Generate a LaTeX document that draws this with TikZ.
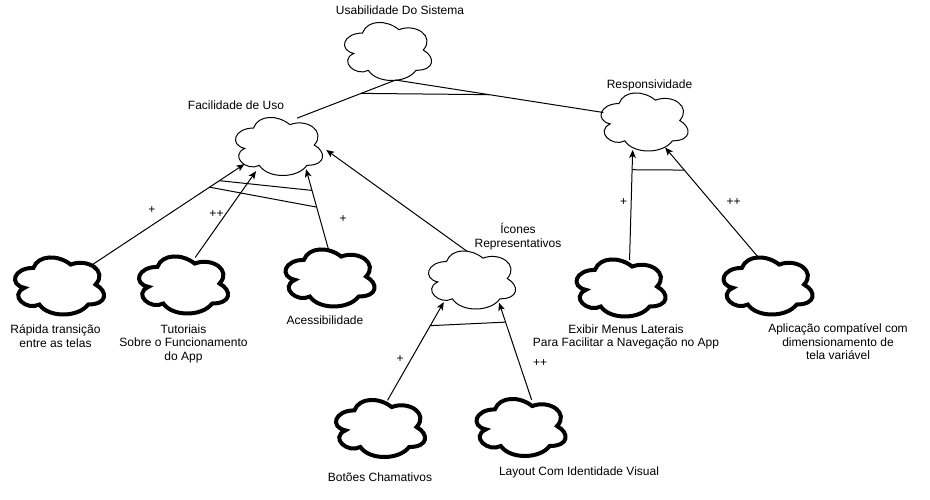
\documentclass[tikz,border=0pt]{standalone}
\usepackage{fontspec}
\setmainfont{Liberation Sans}
\usetikzlibrary{arrows.meta,calc}

% Cloud-shaped node: drawn outline follows the usual softgoal cloud,
% border anchors follow an ellipse of the node's minimum size.
\makeatletter
\newdimen\cldw \newdimen\cldh \newdimen\cldx \newdimen\cldy
\def\cldpt#1#2{\pgf@x=#1\cldw \advance\pgf@x by \cldx
  \pgf@y=-#2\cldh \advance\pgf@y by \cldy}
\pgfdeclareshape{softcloud}{%
  \savedanchor\cldradii{%
    \pgfmathsetlength\pgf@xb{\pgfkeysvalueof{/pgf/minimum width}}%
    \pgfmathsetlength\pgf@yb{\pgfkeysvalueof{/pgf/minimum height}}%
    \pgf@x=.5\pgf@xb
    \pgf@y=.5\pgf@yb
  }%
  \anchor{center}{\pgfpointorigin}%
  \anchor{text}{\pgfpointorigin}%
  \anchor{north}{\cldradii\pgf@x=0pt}%
  \anchor{south}{\cldradii\pgf@x=0pt\pgf@y=-\pgf@y}%
  \anchor{east}{\cldradii\pgf@y=0pt}%
  \anchor{west}{\cldradii\pgf@x=-\pgf@x\pgf@y=0pt}%
  \anchorborder{%
    \edef\cldtmp{\noexpand\pgfpointborderellipse
      {\noexpand\pgfqpoint{\the\pgf@x}{\the\pgf@y}}{\noexpand\cldradii}}%
    \cldtmp}%
  \backgroundpath{%
    \cldradii
    \cldw=2.2346\pgf@x
    \cldh=2.3364\pgf@y
    \cldx=-0.5125\cldw
    \cldy=0.522\cldh
    \pgfpathmoveto{\cldpt{0.25}{0.25}}%
    \pgfpathcurveto{\cldpt{0.05}{0.25}}{\cldpt{0}{0.5}}{\cldpt{0.16}{0.55}}%
    \pgfpathcurveto{\cldpt{0}{0.66}}{\cldpt{0.18}{0.9}}{\cldpt{0.31}{0.8}}%
    \pgfpathcurveto{\cldpt{0.4}{1}}{\cldpt{0.7}{1}}{\cldpt{0.8}{0.8}}%
    \pgfpathcurveto{\cldpt{1}{0.8}}{\cldpt{1}{0.6}}{\cldpt{0.875}{0.5}}%
    \pgfpathcurveto{\cldpt{1}{0.3}}{\cldpt{0.8}{0.1}}{\cldpt{0.625}{0.2}}%
    \pgfpathcurveto{\cldpt{0.5}{0.05}}{\cldpt{0.3}{0.05}}{\cldpt{0.25}{0.25}}%
    \pgfpathclose
  }%
}
\makeatother

\begin{document}
\begin{tikzpicture}[x=0.75pt,y=-0.75pt,
  softgoal/.style={shape=softcloud,draw,line width=0.75pt,
    minimum width=65.25pt,minimum height=43.5pt},
  opgoal/.style={shape=softcloud,draw,line width=3pt,
    minimum width=66.75pt,minimum height=42.75pt},
  caption/.style={font=\fontsize{9}{10.2}\selectfont,align=center,inner sep=0pt},
  contrib/.style={font=\fontsize{9}{10.2}\selectfont,inner sep=0pt},
  link/.style={line width=0.75pt},
  arrowlink/.style={link,-{Stealth[length=6pt,width=5pt,inset=1.5pt]}},
  andbar/.style={line width=0.75pt},
]
\fill[white] (0,0) rectangle (930,499);
\useasboundingbox (0,0) rectangle (930,499);

% softgoals
\node[softgoal] (usab) at (388,51.5) {};
\node[softgoal] (fac)  at (279,146.5) {};
\node[softgoal] (resp) at (644.5,122) {};
\node[softgoal] (icon) at (472,280) {};

% operationalizations
\node[opgoal] (rap)   at (59.5,286) {};
\node[opgoal] (tut)   at (183.5,285) {};
\node[opgoal] (acess) at (330,278) {};
\node[opgoal] (exib)  at (621,288) {};
\node[opgoal] (aplic) at (768,286) {};
\node[opgoal] (bot)   at (380.5,428.5) {};
\node[opgoal] (lay)   at (521,427.5) {};

% captions
\node[caption] (tusab)  at (400,10) {Usabilidade Do Sistema};
\node[caption] (tfac)   at (236,105) {Facilidade de Uso};
\node[caption] (tresp)  at (649.5,85) {Responsividade};
\node[caption] (ticon)  at (518,236.5) {Ícones\\Representativos};
\node[caption] (trap)   at (55.5,336) {Rápida transição\\entre as telas};
\node[caption] (ttut)   at (183.5,343.5) {Tutoriais\\Sobre o Funcionamento\\do App};
\node[caption] (tacess) at (325,320) {Acessibilidade};
\node[caption] (texib)  at (626,337) {Exibir Menus Laterais\\Para Facilitar a Navegação no App};
\node[caption] (taplic) at (838,342) {Aplicação compatível com\\dimensionamento de\\tela variável};
\node[caption] (tbot)   at (380,477) {Botões Chamativos};
\node[caption] (tlay)   at (579,472) {Layout Com Identidade Visual};

% decomposition of the top softgoal
\draw[link,shorten >=2.5pt] (usab.-75) -- (fac.61);
\draw[link] (usab.-75) -- (resp.167);
\draw[andbar] ($(usab.-75)!0.34!(fac.61)$) -- ($(usab.-75)!0.45!(resp.167)$);

% contributions to Facilidade de Uso
\draw[arrowlink] (rap.33) -- (fac.207);
\draw[arrowlink] (tut.67) -- (fac.227);
\draw[arrowlink] (acess.93) -- (fac.-40);
\draw[arrowlink,shorten >=3.5pt] (icon.100) -- (fac.-1);
\draw[andbar] ($(rap.33)!0.837!(fac.207)$) -- ($(acess.93)!0.736!(fac.-40)$);
\draw[andbar] ($(rap.33)!0.773!(fac.207)$) -- ($(acess.93)!0.528!(fac.-40)$);

% contributions to Responsividade
\draw[arrowlink] (exib.73) -- (resp.247);
\draw[arrowlink] (aplic.108) -- (resp.-51);
\draw[andbar] ($(exib.73)!0.82!(resp.247)$) -- ($(aplic.108)!0.796!(resp.-51)$);

% contributions to Icones Representativos
\draw[arrowlink] (bot.76) -- (icon.218);
\draw[arrowlink] (lay.69) -- (icon.-40);
\draw[andbar] ($(bot.76)!0.76!(icon.218)$) -- ($(lay.69)!0.80!(icon.-40)$);

% contribution marks
\node[contrib] (c1) at (152,210) {+};
\node[contrib] (c2) at (216.5,214) {++};
\node[contrib] (c3) at (343,219) {+};
\node[contrib] (c4) at (623.5,202.5) {+};
\node[contrib] (c5) at (733.5,202.5) {++};
\node[contrib] (c6) at (400,359) {+};
\node[contrib] (c7) at (540,363.5) {++};
\end{tikzpicture}
\end{document}
